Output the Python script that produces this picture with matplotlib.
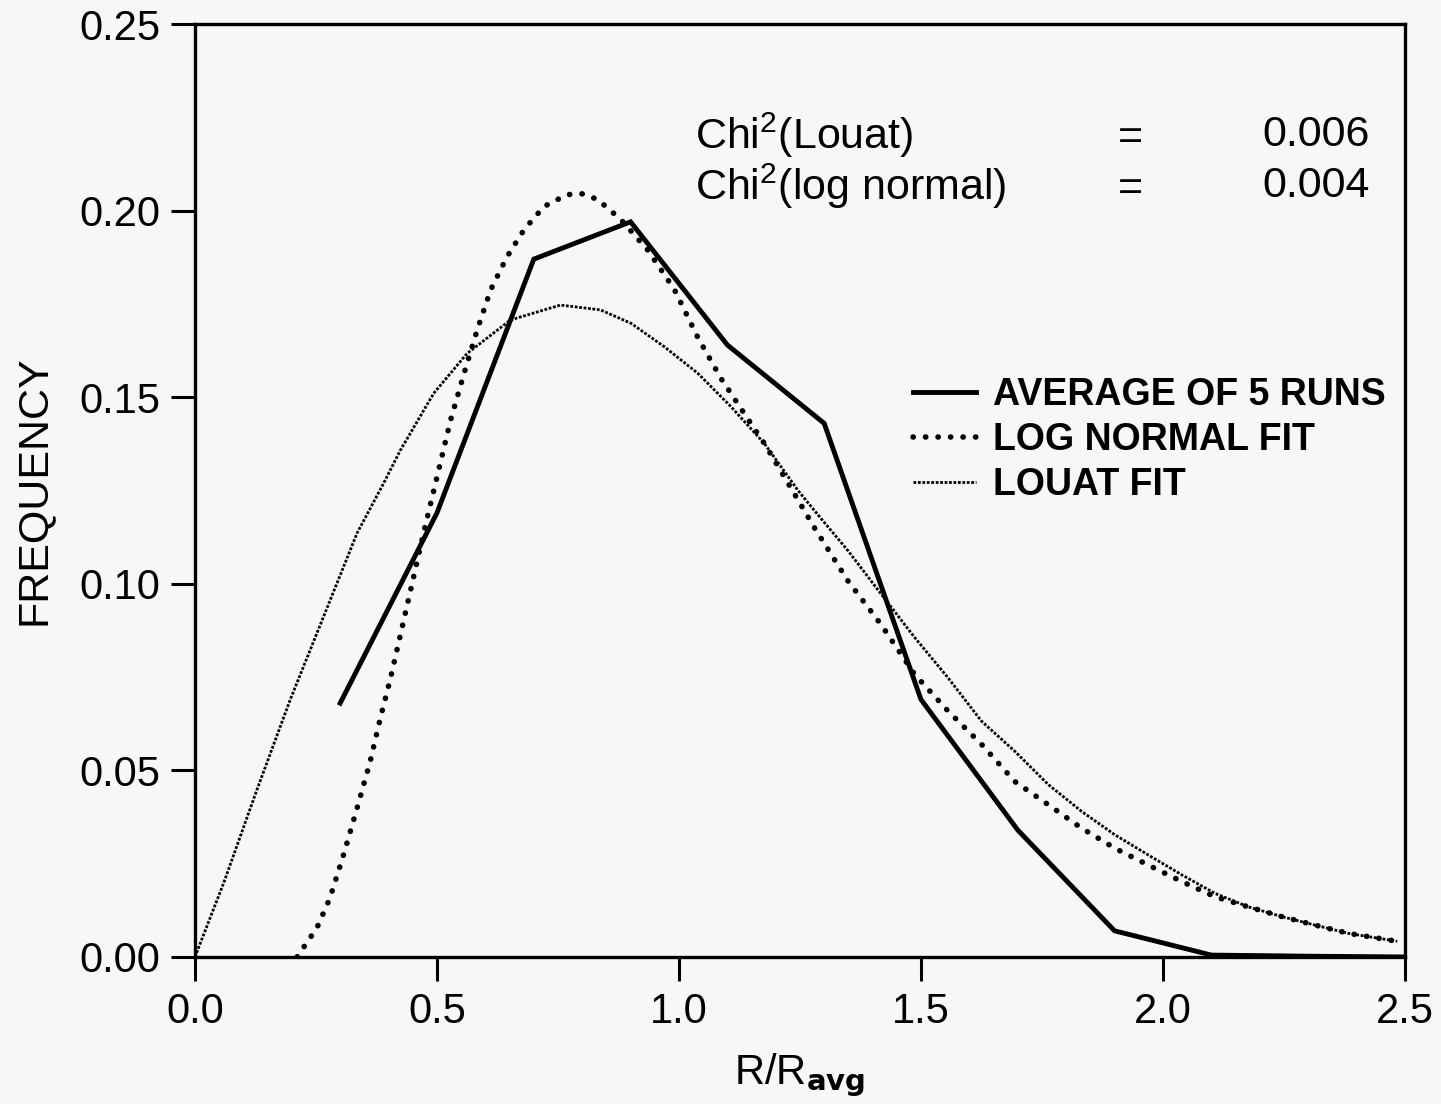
import matplotlib
matplotlib.use('Agg')
import matplotlib.pyplot as plt
from matplotlib.lines import Line2D

plt.rcParams['font.family'] = ['Liberation Sans', 'DejaVu Sans']
plt.rcParams['mathtext.default'] = 'regular'

# average of 5 runs (vertices)
avg_x = [0.3, 0.5, 0.7, 0.9, 1.1, 1.3, 1.5, 1.7, 1.9, 2.1, 2.3, 2.5]
avg_y = [0.068, 0.119, 0.187, 0.197, 0.164, 0.143, 0.069, 0.034, 0.007, 0.0005, 0.0002, 0.0]

# log normal fit
logn_x = [0.211, 0.252, 0.279, 0.307, 0.335, 0.362, 0.383, 0.404, 0.445, 0.473, 0.500,
          0.528, 0.556, 0.583, 0.611, 0.645, 0.680, 0.721, 0.769, 0.800, 0.832, 0.880,
          0.935, 0.990, 1.039, 1.087, 1.135, 1.177, 1.239, 1.280, 1.349, 1.418, 1.487,
          1.556, 1.625, 1.694, 1.763, 1.832, 1.901, 1.970, 2.039, 2.108, 2.177, 2.246,
          2.315, 2.384, 2.484]
logn_y = [0.0, 0.0078, 0.0158, 0.0274, 0.0399, 0.0524, 0.064, 0.0747, 0.098, 0.114, 0.1286,
          0.1438, 0.1564, 0.168, 0.1788, 0.1877, 0.1949, 0.2011, 0.2043, 0.2045, 0.203, 0.1976,
          0.1895, 0.179, 0.166, 0.155, 0.1456, 0.1375, 0.124, 0.115, 0.1008, 0.089, 0.0757,
          0.0659, 0.057, 0.047, 0.0408, 0.0345, 0.0291, 0.0246, 0.0202, 0.0161, 0.0134, 0.0108,
          0.0085, 0.0063, 0.0042]

# Louat fit
louat_x = [0.0, 0.059, 0.128, 0.197, 0.266, 0.335, 0.390, 0.424, 0.493, 0.562, 0.652,
           0.755, 0.838, 0.901, 0.970, 1.039, 1.108, 1.177, 1.246, 1.280, 1.349, 1.418,
           1.487, 1.556, 1.625, 1.694, 1.763, 1.832, 1.901, 1.970, 2.039, 2.108, 2.177,
           2.246, 2.315, 2.384, 2.484]
louat_y = [0.0, 0.0197, 0.0448, 0.069, 0.0913, 0.1136, 0.127, 0.1357, 0.151, 0.1617, 0.1707,
           0.1747, 0.1734, 0.1698, 0.1635, 0.1564, 0.1474, 0.1375, 0.125, 0.1196, 0.1089, 0.0972,
           0.0856, 0.0748, 0.0632, 0.0551, 0.0462, 0.039, 0.0327, 0.0273, 0.022, 0.017, 0.0134,
           0.0108, 0.0085, 0.0063, 0.0042]

x_ticks = [0.0, 0.5, 1.0, 1.5, 2.0, 2.5]
y_ticks = [0.00, 0.05, 0.10, 0.15, 0.20, 0.25]

bg = '#f7f7f7'
fig = plt.figure(figsize=(14.41, 11.04), dpi=100, facecolor=bg)
ax = fig.add_axes([0.1353, 0.1332, 0.8397, 0.845], facecolor=bg)

louat_style = dict(color='black', linewidth=2.0, linestyle=(0, (1.0, 0.6)))
logn_style = dict(color='black', linewidth=4.0, linestyle=(0, (0.05, 2.2)), dash_capstyle='round')
avg_style = dict(color='black', linewidth=3.5)

ax.plot(louat_x, louat_y, **louat_style)
ax.plot(logn_x, logn_y, **logn_style)
ax.plot(avg_x, avg_y, solid_joinstyle='miter', **avg_style)

ax.set_xlim(0, 2.5)
ax.set_ylim(0, 0.25)
ax.set_xticks(x_ticks)
ax.set_xticklabels(['%.1f' % v for v in x_ticks])
ax.set_yticks(y_ticks)
ax.set_yticklabels(['%.2f' % v for v in y_ticks])
ax.tick_params(direction='out', length=17, width=2.2, labelsize=30, colors='black')
ax.tick_params(axis='y', pad=8)
ax.tick_params(axis='x', pad=8)
for s in ax.spines.values():
    s.set_linewidth(2.4)

ax.set_xlabel('R/R$_{\\mathbf{avg}}$', fontsize=30, labelpad=14)
ax.set_ylabel('FREQUENCY', fontsize=31, labelpad=18)

# chi-square annotation
ax.text(0.413, 0.881, 'Chi$^{2}$(Louat)', transform=ax.transAxes, fontsize=31, va='center')
ax.text(0.413, 0.826, 'Chi$^{2}$(log normal)', transform=ax.transAxes, fontsize=31, va='center')
ax.text(0.773, 0.878, '=', transform=ax.transAxes, fontsize=31, va='center', ha='center')
ax.text(0.773, 0.823, '=', transform=ax.transAxes, fontsize=31, va='center', ha='center')
ax.text(0.971, 0.881, '0.006', transform=ax.transAxes, fontsize=31, va='center', ha='right')
ax.text(0.971, 0.826, '0.004', transform=ax.transAxes, fontsize=31, va='center', ha='right')

handles = [
    Line2D([], [], **avg_style),
    Line2D([], [], **logn_style),
    Line2D([], [], **louat_style),
]
labels = ['AVERAGE OF 5 RUNS', 'LOG NORMAL FIT', 'LOUAT FIT']
ax.legend(handles, labels, loc='upper left', bbox_to_anchor=(0.593, 0.622), frameon=False,
          prop={'size': 27, 'weight': 'bold'}, handlelength=1.7, handletextpad=0.45,
          labelspacing=0.25, borderpad=0, borderaxespad=0)

fig.savefig('out.png', dpi=100, facecolor=bg)
